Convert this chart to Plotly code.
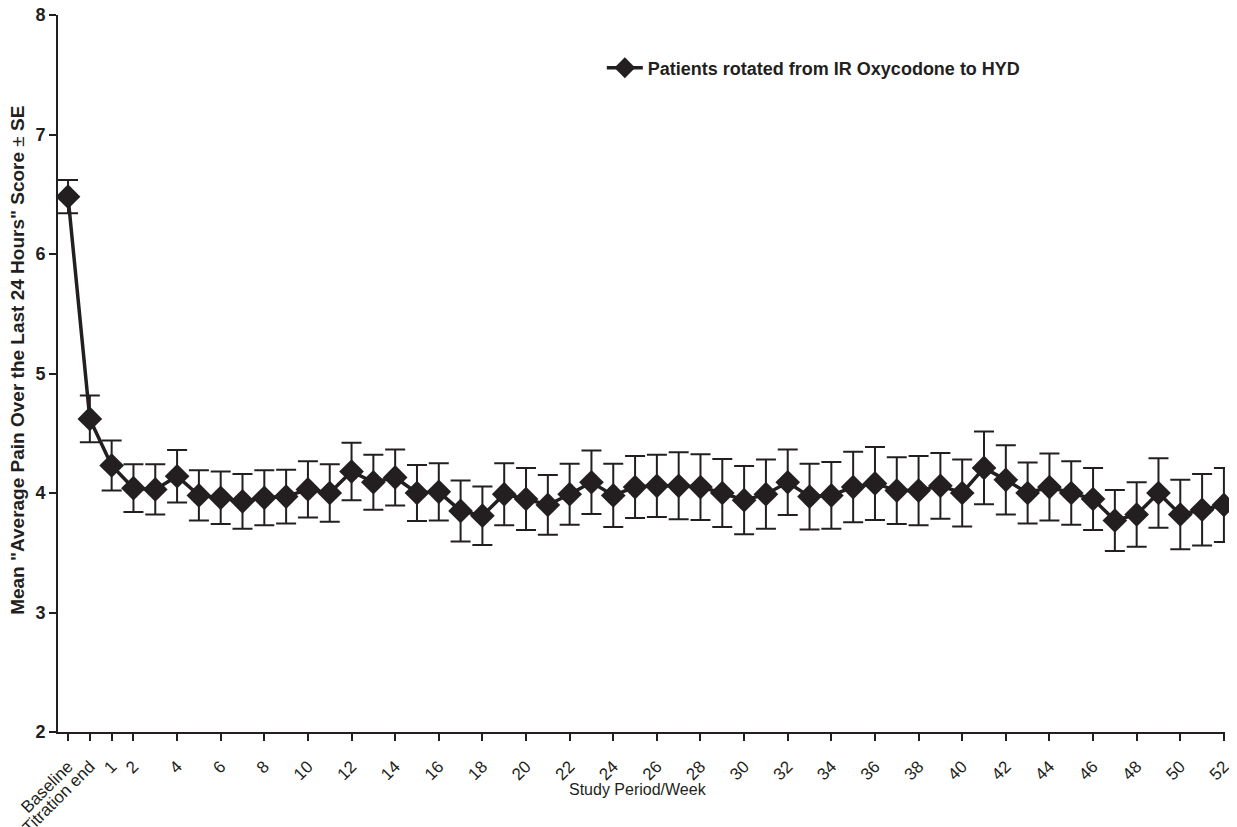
import plotly.graph_objects as go

categories = ["Baseline", "Titration end"] + [str(w) for w in range(1, 53)]

mean_score = [
    6.48, 4.62,
    4.23, 4.04, 4.03, 4.14, 3.98, 3.96, 3.93, 3.96, 3.97, 4.03,
    4.00, 4.18, 4.09, 4.13, 4.00, 4.01, 3.85, 3.81, 3.99, 3.95,
    3.90, 3.99, 4.09, 3.98, 4.05, 4.06, 4.06, 4.05, 4.00, 3.94,
    3.99, 4.09, 3.97, 3.98, 4.05, 4.08, 4.02, 4.02, 4.06, 4.00,
    4.21, 4.11, 4.00, 4.05, 4.00, 3.95, 3.77, 3.82, 4.00, 3.82,
    3.86, 3.90,
]

se = [
    0.14, 0.195,
    0.21, 0.20, 0.21, 0.22, 0.21, 0.22, 0.23, 0.23, 0.225, 0.235,
    0.24, 0.24, 0.23, 0.235, 0.235, 0.24, 0.255, 0.245, 0.26, 0.26,
    0.25, 0.255, 0.265, 0.265, 0.26, 0.26, 0.28, 0.275, 0.285, 0.285,
    0.29, 0.275, 0.275, 0.28, 0.295, 0.305, 0.28, 0.29, 0.275, 0.28,
    0.305, 0.29, 0.255, 0.28, 0.265, 0.26, 0.255, 0.27, 0.29, 0.29,
    0.30, 0.31,
]

tick_labels = ["Baseline", "Titration end", "1", "2"] + [str(w) for w in range(4, 53, 2)]

series_name = "Patients rotated from IR Oxycodone to HYD"
x_title = "Study Period/Week"
y_title = "<b>Mean \"Average Pain Over the Last 24 Hours\" Score</b> ± <b>SE</b>"

x_idx = list(range(len(categories)))
tick_vals = [categories.index(t) for t in tick_labels]

ink = "#231f20"
font_family = "Liberation Sans, Arial, sans-serif"

fig = go.Figure()
fig.add_trace(go.Scatter(
    x=x_idx,
    y=mean_score,
    mode="lines+markers",
    name=series_name,
    line=dict(color=ink, width=3.5),
    marker=dict(symbol="diamond", size=19, color=ink),
    error_y=dict(type="data", array=se, visible=True, color=ink, thickness=2, width=10),
    cliponaxis=False,
))

fig.update_layout(
    width=1237,
    height=827,
    paper_bgcolor="white",
    plot_bgcolor="white",
    margin=dict(l=50, r=20, t=7, b=103, autoexpand=False),
    font=dict(family=font_family, color=ink),
    showlegend=True,
    legend=dict(
        x=0.466, y=0.926, xanchor="left", yanchor="middle",
        bgcolor="rgba(0,0,0,0)",
        font=dict(size=18, family=font_family, color=ink, weight="bold"),
        itemwidth=36,
    ),
    annotations=[
        dict(text=x_title, xref="paper", yref="paper", x=0.497, y=-0.08,
             xanchor="center", yanchor="middle", showarrow=False,
             font=dict(size=16, family=font_family, color=ink)),
        dict(text=y_title, xref="paper", yref="paper", x=-0.0343, y=0.519,
             xanchor="center", yanchor="middle", textangle=-90, showarrow=False,
             font=dict(size=19, family=font_family, color=ink)),
    ],
)

fig.update_xaxes(
    range=[-0.46, 53.05],
    tickmode="array",
    tickvals=tick_vals,
    ticktext=tick_labels,
    tickangle=-45,
    ticks="outside",
    ticklen=7,
    tickwidth=2,
    tickcolor=ink,
    ticklabelstandoff=9,
    ticklabeloverflow="allow",
    tickfont=dict(size=17, family=font_family, color=ink),
    showline=True,
    linecolor=ink,
    linewidth=2,
    showgrid=False,
    zeroline=False,
    automargin=False,
)

fig.update_yaxes(
    range=[2, 8],
    tickvals=[2, 3, 4, 5, 6, 7, 8],
    ticks="outside",
    ticklen=7,
    tickwidth=2,
    tickcolor=ink,
    ticklabeloverflow="allow",
    tickfont=dict(size=18, family=font_family, color=ink, weight="bold"),
    showline=True,
    linecolor=ink,
    linewidth=2,
    showgrid=False,
    zeroline=False,
    automargin=False,
)

fig.write_html("out.html")
